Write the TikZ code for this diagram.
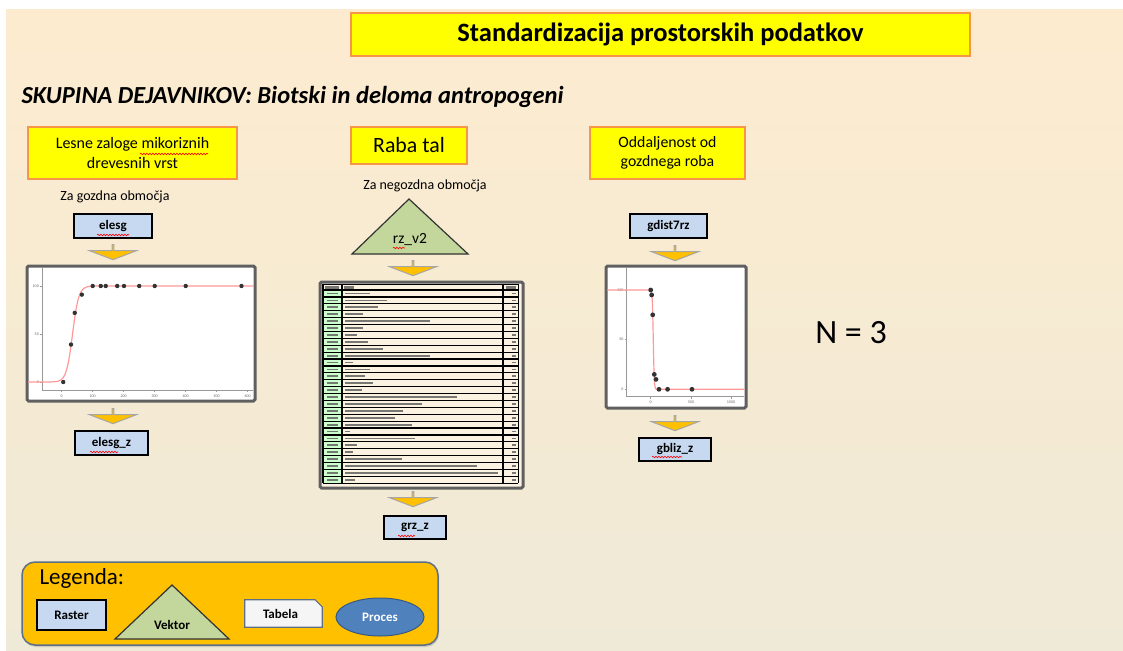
\documentclass[tikz,border=0pt]{standalone}
\usepackage{fontspec}
\setmainfont{Carlito}
\usetikzlibrary{arrows.meta, positioning, shapes.arrows, shapes.geometric, decorations.pathmorphing, shadows}

\definecolor{titleyellow}{HTML}{FFFF00}
\definecolor{boxorange}{HTML}{F79646}
\definecolor{rasterblue}{HTML}{C6D9F1}
\definecolor{vectorgreen}{HTML}{C3D69B}
\definecolor{arrowgold}{HTML}{FFC000}
\definecolor{procblue}{HTML}{4F81BD}
\definecolor{legendedge}{HTML}{5B6F86}
\definecolor{creamtop}{HTML}{FDEBCF}
\definecolor{creambot}{HTML}{EFEAD7}
\definecolor{tablegreen}{HTML}{CCFFCC}
\definecolor{tablecream}{HTML}{FBF2E2}

\begin{document}
\begin{tikzpicture}[x=1pt, y=-1pt,
  factor/.style={draw=boxorange, line width=2.5pt, fill=titleyellow, align=center, inner sep=0pt},
  raster/.style={draw=black, line width=1.4pt, fill=rasterblue, minimum width=78pt, minimum height=24pt, inner sep=0pt, font=\fontsize{13}{15}\selectfont\bfseries},
  vector/.style={draw=black!80, line width=1.2pt, fill=vectorgreen, line join=miter},
  downarr/.style={single arrow, shape border rotate=270, fill=arrowgold, draw=gray!70, line width=1pt, minimum height=15pt, minimum width=47pt, single arrow head extend=12pt, single arrow tip angle=138, inner sep=0pt},
  plotframe/.style={draw=gray!75!black, line width=3pt, fill=white, rounded corners=1.5pt, inner sep=0pt},
  note/.style={font=\fontsize{14}{16}\selectfont},
  legtext/.style={font=\fontsize{13}{15}\selectfont\bfseries},
  spell/.style={draw=red, line width=0.6pt, decorate, decoration={snake, amplitude=0.8pt, segment length=3pt}},
  curve/.style={draw=red!40, line width=1.2pt},
  datapt/.style={fill=black!80},
  axis/.style={draw=gray!80, line width=0.8pt},
  ticklab/.style={font=\fontsize{4}{5}\selectfont, text=black!60, inner sep=0pt},
  rowbar/.style={fill=black!65, opacity=0.8}]

\useasboundingbox (0,0) rectangle (1123,650);
\fill[white] (0,0) rectangle (1123,650);
\shade[top color=creamtop, bottom color=creambot] (6,10) rectangle (1123,650);

\node[factor, minimum width=619pt, minimum height=43pt, font=\fontsize{26.5}{30}\selectfont\bfseries] (title) at (660.5,34.5) {Standardizacija prostorskih podatkov};
\node[anchor=west, font=\fontsize{24.5}{28}\selectfont\bfseries\itshape] (group) at (18,97) {SKUPINA DEJAVNIKOV: Biotski in deloma antropogeni};

\node[factor, minimum width=209pt, minimum height=52pt, font=\fontsize{16}{20}\selectfont] (zaloge) at (132.5,153) {Lesne zaloge mikoriznih\\drevesnih vrst};
\node[factor, minimum width=116pt, minimum height=37pt, font=\fontsize{21.8}{24}\selectfont] (raba) at (409,145.5) {Raba tal};
\node[factor, minimum width=155pt, minimum height=52pt, font=\fontsize{15.8}{19}\selectfont] (oddalj) at (667.5,153) {Oddaljenost od\\gozdnega roba};

\node[note] (gozd) at (115,197) {Za gozdna območja};
\node[note] (negozd) at (425,186) {Za negozdna območja};

% prvi stolpec
\node[raster] (elesg) at (113,226) {elesg};
\node[downarr] (a1) at (113,252) {};
\node[plotframe, minimum width=228pt, minimum height=135pt] (plotA) at (141,333.5) {};
\node[downarr] (a2) at (113,416) {};
\node[raster, minimum width=73pt] (elesgz) at (111.5,443) {elesg\_z};

\draw[axis] (42,268) -- (42,390) -- (253,390);
\foreach \w/\py in {0/382, 50/334, 100/286} {\draw[axis] (40,\py) -- (42,\py); \node[ticklab, anchor=east] at (39,\py) {\w};}
\foreach \v [count=\i from 0] in {0,100,...,600} {\draw[axis] ({61.7+31*\i},390) -- ({61.7+31*\i},392); \node[ticklab] at ({61.7+31*\i},396) {\v};}
\begin{scope}[shift={(61.7,382)}, x=0.31pt, y=0.96pt]
\draw[curve] (-108,0) -- plot[domain=-40:110, samples=60] (\x,{100/(1+exp(-(\x-35)/10))}) -- (620,100);
\foreach \v/\w in {5/0, 30/39, 42/72, 65/91, 100/100, 126/100, 142/100, 179/100, 201/100, 250/100, 300/100, 400/100, 580/100} \fill[datapt] (\v,\w) circle[radius=2.2pt];
\end{scope}

% drugi stolpec
\coordinate (rzTop) at (409,199);
\draw[vector] (rzTop) -- (468,254) -- (352,254) -- cycle;
\node[font=\fontsize{15.5}{17}\selectfont] (rzv2) at (410,240) {rz\_v2};
\node[downarr] (a3) at (413,268) {};
\node[plotframe, fill=tablecream, minimum width=203pt, minimum height=206pt] (table) at (421.5,385) {};
\node[downarr] (a4) at (413,499) {};
\node[raster, minimum width=62pt, minimum height=23pt] (grzz) at (415,527.5) {grz\_z};

\fill[tablegreen] (323,290) rectangle (342,483);
\foreach \w [count=\i from 0] in {25,42,33,18,85,18,12,23,38,85,8,25,20,28,17,112,77,58,50,67,5,70,12,8,57,132,153,10} {
  \fill[rowbar] (327,{290+6.9*\i+2.6}) rectangle (338,{290+6.9*\i+4.4});
  \fill[rowbar] (345,{290+6.9*\i+2.6}) rectangle ({345+\w},{290+6.9*\i+4.4});
  \fill[rowbar] (512,{290+6.9*\i+2.6}) rectangle (516,{290+6.9*\i+4.4});
}
\fill[rowbar] (325,285.5) rectangle (339,288.5);
\fill[rowbar] (344,285.5) rectangle (354,288.5);
\fill[rowbar] (506,285.5) rectangle (516,288.5);
\foreach \i in {0,...,28} \draw[line width=1.2pt] (323,{290+6.9*\i}) -- (518,{290+6.9*\i});
\draw[line width=0.6pt] (323,284) -- (518,284);
\draw[line width=1.2pt] (323,284) -- (323,483) (342,284) -- (342,483) (503,284) -- (503,483);
\draw[line width=0.6pt] (518,284) -- (518,483);

% tretji stolpec
\node[raster, minimum width=77pt] (gdist) at (668.5,226) {gdist7rz};
\node[downarr] (a5) at (675,253) {};
\node[plotframe, minimum width=140pt, minimum height=142pt] (plotB) at (676,337) {};
\node[downarr] (a6) at (675,423) {};
\node[raster, minimum width=72pt, minimum height=23pt] (gbliz) at (675,449.5) {gbliz\_z};

\draw[axis] (626.7,268) -- (626.7,396.7) -- (744,396.7);
\foreach \w/\py in {0/389.3, 50/339.3, 100/290} {\draw[axis] (624.7,\py) -- (626.7,\py); \node[ticklab, anchor=east] at (623.5,\py) {\w};}
\foreach \v/\px in {0/650.7, 500/691, 1000/731} {\draw[axis] (\px,396.7) -- (\px,398.7); \node[ticklab] at (\px,402.5) {\v};}
\begin{scope}[shift={(650.7,389.3)}, x=0.0803pt, y=0.993pt]
\draw[curve] (-540,100) -- plot[domain=-10:85, samples=60] (\x,{100/(1+exp((\x-32)/6))}) -- (1170,0);
\foreach \v/\w in {0/100, 12/95, 25/75, 45/15, 66/10, 103/0, 210/0, 514/0} \fill[datapt] (\v,\w) circle[radius=2.4pt];
\end{scope}

\node[font=\fontsize{34}{40}\selectfont] (nval) at (851,333) {N = 3};

% napake crkovanja
\draw[spell] (140,154) -- (208,154);
\draw[spell] (97,235) -- (129,235);
\draw[spell] (90,452) -- (118,452);
\draw[spell] (393,248) -- (405,248);
\draw[spell] (398,536) -- (415,536);
\draw[spell] (652,457) -- (682,457);

% legenda
\node[draw=legendedge, line width=1.5pt, fill=arrowgold, rounded corners=13pt, minimum width=416pt, minimum height=83pt, drop shadow={shadow xshift=1pt, shadow yshift=-2pt, opacity=0.3}] (legend) at (230,603.5) {};
\node[anchor=west, font=\fontsize{23}{26}\selectfont] (legtitle) at (36,578) {Legenda:};
\node[raster, minimum width=69pt, minimum height=30pt] (legraster) at (71.5,615) {Raster};
\coordinate (vekTop) at (172,585);
\draw[vector] (vekTop) -- (229,639) -- (115,639) -- cycle;
\node[legtext] (legvektor) at (172,625) {Vektor};
\node[minimum width=77pt, minimum height=27pt, inner sep=0pt] (tabbox) at (283.5,613.5) {};
\draw[draw=legendedge, line width=1.2pt, fill=gray!8] (tabbox.north west) -- ([xshift=-7pt]tabbox.north east) -- ([yshift=-7pt]tabbox.north east) -- (tabbox.south east) -- (tabbox.south west) -- cycle;
\node[legtext] (legtabela) at ([xshift=-3pt]tabbox.center) {Tabela};
\node[ellipse, draw=procblue!70!black, line width=1pt, fill=procblue, text=white, minimum width=88pt, minimum height=38pt, inner sep=0pt, legtext] (legproces) at (380,617) {Proces};

\end{tikzpicture}
\end{document}
